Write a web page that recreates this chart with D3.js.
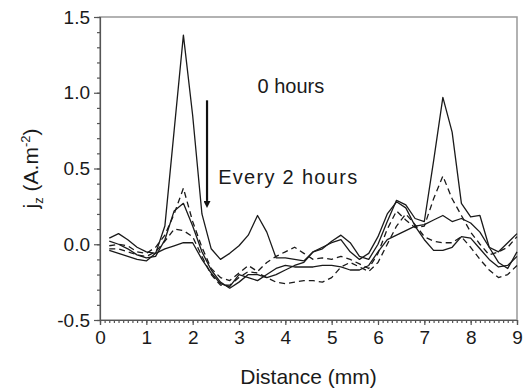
<!DOCTYPE html>
<html>
<head>
<meta charset="utf-8">
<script src="https://cdn.jsdelivr.net/npm/d3@7"></script>
<style>
body { margin: 0; background: #fff; }
text { font-family: Arial, "Liberation Sans", sans-serif; fill: #1a1a1a; }
</style>
</head>
<body>
<div class="container"></div>
<script>
// distance along the scan (mm)
var distance = [0.2, 0.4, 0.6, 0.8, 1.0, 1.2, 1.4, 1.6, 1.8, 2.0, 2.2, 2.4, 2.6, 2.8, 3.0,
    3.2, 3.4, 3.6, 3.8, 4.0, 4.2, 4.4, 4.6, 4.8, 5.0, 5.2, 5.4, 5.6, 5.8, 6.0,
    6.2, 6.4, 6.6, 6.8, 7.0, 7.2, 7.4, 7.6, 7.8, 8.0, 8.2, 8.4, 8.6, 8.8, 9.0];

// current density jz (A.m-2), one scan every 2 hours
var hours0 = [0.04, 0.07, 0.03, -0.02, -0.05, -0.06, 0.12, 0.75, 1.38, 0.85, 0.20, -0.03, -0.10, -0.06, -0.01,
    0.06, 0.19, 0.08, -0.09, -0.09, -0.10, -0.11, -0.05, -0.03, 0.02, 0.06, 0.01, -0.08, -0.10, 0.00,
    0.15, 0.29, 0.26, 0.17, 0.15, 0.55, 0.97, 0.74, 0.27, 0.18, 0.19, -0.02, -0.12, -0.16, -0.05];
var hours2 = [-0.01, 0.00, -0.01, -0.05, -0.06, -0.02, 0.06, 0.20, 0.37, 0.15, -0.02, -0.16, -0.22, -0.24, -0.19,
    -0.14, -0.18, -0.12, -0.08, -0.05, -0.02, -0.06, -0.10, -0.09, -0.10, -0.08, -0.10, -0.13, -0.16, -0.06,
    0.10, 0.22, 0.16, 0.11, 0.12, 0.30, 0.45, 0.30, 0.19, 0.08, 0.00, -0.07, -0.05, -0.02, 0.05];
var hours4 = [0.02, 0.00, -0.03, -0.07, -0.09, -0.08, 0.03, 0.22, 0.27, 0.12, -0.05, -0.17, -0.25, -0.29, -0.25,
    -0.20, -0.20, -0.22, -0.20, -0.17, -0.14, -0.12, -0.05, -0.02, 0.01, 0.03, -0.05, -0.10, -0.06, 0.05,
    0.20, 0.28, 0.24, 0.12, 0.03, -0.04, -0.04, -0.02, 0.05, 0.04, -0.03, -0.10, -0.15, -0.14, -0.08];
var hours6 = [-0.03, -0.03, -0.05, -0.07, -0.08, -0.05, 0.02, 0.10, 0.09, 0.05, -0.08, -0.20, -0.27, -0.27, -0.22,
    -0.18, -0.19, -0.22, -0.25, -0.26, -0.25, -0.24, -0.24, -0.25, -0.22, -0.15, -0.12, -0.15, -0.18, -0.12,
    0.00, 0.12, 0.20, 0.13, 0.05, 0.02, 0.01, 0.01, 0.05, -0.02, -0.10, -0.17, -0.22, -0.20, -0.14];
var hours8 = [-0.04, -0.06, -0.08, -0.10, -0.11, -0.06, -0.03, -0.01, 0.01, 0.01, -0.10, -0.19, -0.26, -0.28, -0.20,
    -0.22, -0.24, -0.20, -0.16, -0.14, -0.15, -0.15, -0.15, -0.14, -0.14, -0.15, -0.17, -0.17, -0.14, -0.05,
    0.03, 0.06, 0.09, 0.12, 0.13, 0.16, 0.19, 0.15, 0.17, 0.14, 0.08, -0.02, -0.05, 0.01, 0.07];

var series = [
    { values: hours0, dashed: false },
    { values: hours2, dashed: true },
    { values: hours4, dashed: false },
    { values: hours6, dashed: true },
    { values: hours8, dashed: false }
];

var yMajor = [-0.5, 0.0, 0.5, 1.0, 1.5];
var xMajor = [0, 1, 2, 3, 4, 5, 6, 7, 8, 9];

var margin = { top: 17, right: 7, bottom: 70, left: 100 },
    width = 524 - margin.left - margin.right,
    height = 390 - margin.top - margin.bottom;

var svg = d3.select(".container")
    .append("svg")
    .attr("width", width + margin.left + margin.right)
    .attr("height", height + margin.top + margin.bottom)
    .append("g")
    .attr("transform", "translate(" + margin.left + "," + margin.top + ")");

var x = d3.scaleLinear().domain([0, 9]).range([0, width]);
var y = d3.scaleLinear().domain([-0.5, 1.5]).range([height, 0]);

// frame
svg.append("rect")
    .attr("width", width)
    .attr("height", height)
    .attr("fill", "none")
    .attr("stroke", "#999")
    .attr("stroke-width", 1.5);

// minor ticks
svg.append("g")
    .attr("class", "minor")
    .call(d3.axisLeft(y).tickValues(d3.range(-5, 16).map(function (d) { return d / 10; }))
        .tickSize(3).tickFormat(""));
svg.append("g")
    .attr("class", "minor")
    .attr("transform", "translate(0," + height + ")")
    .call(d3.axisBottom(x).tickValues(d3.range(0, 91).map(function (d) { return d / 10; }))
        .tickSize(3).tickFormat(""));

// major ticks + labels
svg.append("g")
    .attr("class", "axis")
    .call(d3.axisLeft(y).tickValues(yMajor).tickSize(6).tickPadding(4)
        .tickFormat(function (d) { return d.toFixed(1); }));
svg.append("g")
    .attr("class", "axis")
    .attr("transform", "translate(0," + height + ")")
    .call(d3.axisBottom(x).tickValues(xMajor).tickSize(5).tickPadding(6)
        .tickFormat(d3.format("d")));

svg.selectAll(".axis text").style("font-size", "19px").style("fill", "#1a1a1a");
svg.selectAll(".domain, .tick line").attr("stroke", "#555").attr("stroke-width", 1.2);
svg.selectAll(".minor .domain").remove();

// data lines
var line = d3.line()
    .x(function (d, i) { return x(distance[i]); })
    .y(function (d) { return y(d); });

svg.append("g")
    .selectAll("path")
    .data(series)
    .enter()
    .append("path")
    .attr("d", function (d) { return line(d.values); })
    .attr("fill", "none")
    .attr("stroke", "#1a1a1a")
    .attr("stroke-width", 1.3)
    .attr("stroke-linejoin", "round")
    .attr("stroke-dasharray", function (d) { return d.dashed ? "6,4" : null; });

// annotations
svg.append("text")
    .attr("x", x(3.4))
    .attr("y", y(1.0))
    .style("font-size", "20px")
    .text("0 hours");

svg.append("text")
    .attr("x", x(2.55))
    .attr("y", y(0.4))
    .style("font-size", "20px")
    .style("letter-spacing", "1.3px")
    .text("Every 2 hours");

svg.append("defs").append("marker")
    .attr("id", "arrow")
    .attr("viewBox", "0 0 10 10")
    .attr("refX", 0)
    .attr("refY", 5)
    .attr("markerWidth", 13)
    .attr("markerHeight", 7)
    .attr("markerUnits", "userSpaceOnUse")
    .attr("orient", "auto")
    .append("path")
    .attr("d", "M0,0L10,5L0,10z")
    .attr("fill", "#111");

svg.append("line")
    .attr("x1", x(2.31)).attr("y1", y(0.95))
    .attr("x2", x(2.31)).attr("y2", y(0.2) - 13)
    .attr("stroke", "#111")
    .attr("stroke-width", 2.2)
    .attr("marker-end", "url(#arrow)");

// axis titles
svg.append("text")
    .attr("x", width / 2)
    .attr("y", height + 64)
    .attr("text-anchor", "middle")
    .style("font-size", "21px")
    .text("Distance (mm)");

var yTitle = svg.append("text")
    .attr("transform", "translate(-62," + y(0.5) + ") rotate(-90)")
    .attr("text-anchor", "middle")
    .style("font-size", "21px");
yTitle.append("tspan").text("j");
yTitle.append("tspan").attr("dy", 5).style("font-size", "13px").text("z");
yTitle.append("tspan").attr("dy", -5).text(" (A.m");
yTitle.append("tspan").attr("dy", -8).style("font-size", "13px").text("-2");
yTitle.append("tspan").attr("dy", 8).text(")");
</script>
</body>
</html>
